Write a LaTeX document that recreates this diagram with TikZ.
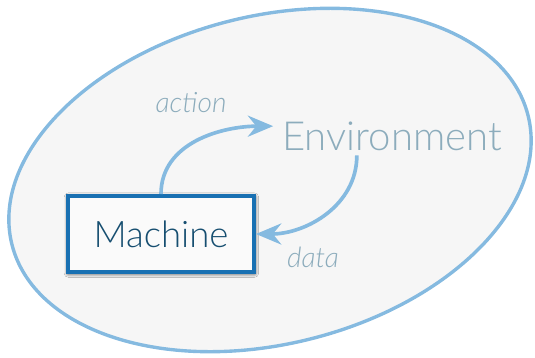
\documentclass[tikz,border=0pt]{standalone}
\usepackage{fontspec}
\setmainfont{Lato}[UprightFont=* Light, ItalicFont=* Light Italic]
\usepackage{tikz}
\usetikzlibrary{arrows.meta, positioning, shadows.blur, calc}
\definecolor{envline}{RGB}{133,186,224}
\definecolor{envfill}{RGB}{246,246,246}
\definecolor{envtext}{RGB}{140,172,188}
\definecolor{boxline}{RGB}{24,112,178}
\definecolor{boxtext}{RGB}{22,78,112}

\begin{document}
\begin{tikzpicture}[
    x=0.025cm, y=-0.025cm,
    world/.style={
      draw=envline, line width=2.4pt, fill=envfill
    },
    machinebox/.style={
      rectangle, draw=boxline, line width=2.8pt,
      fill=white!98!black,
      minimum width=4.65cm, minimum height=1.9cm,
      text=boxtext, font=\fontsize{26}{30}\selectfont,
      blur shadow={shadow xshift=0.3pt, shadow yshift=-0.8pt,
                   shadow blur radius=3pt, shadow blur steps=10,
                   shadow opacity=90}
    },
    envlabel/.style={
      text=envtext, font=\fontsize{28.5}{32}\selectfont
    },
    flowlabel/.style={
      text=envtext, font=\fontsize{20}{24}\selectfont\itshape
    },
    flowarr/.style={
      -{Stealth[length=18pt, width=15pt, inset=6pt]},
      line width=2.6pt, draw=envline
    }
  ]

  \useasboundingbox (0,0) rectangle (535,357);

  % ---- Environment boundary ----
  \draw[world, rotate around={14:(270,180)}]
    (270,180) ellipse [x radius=266, y radius=164];

  % ---- Nodes ----
  \node[machinebox] (machine) at (161,234) {Machine};
  \node[envlabel]   (env)     at (392,136) {Environment};

  % ---- Loop arrows ----
  \draw[flowarr] (machine.north) to[out=90, in=180] ([xshift=-3pt, yshift=7pt]env.west);
  \draw[flowarr] ([xshift=-25pt]env.south) to[out=-90, in=0] (machine.east);

  % ---- Arrow labels ----
  \node[flowlabel] (act)  at (191,103) {action};
  \node[flowlabel] (data) at (313,257) {data};

\end{tikzpicture}
\end{document}
